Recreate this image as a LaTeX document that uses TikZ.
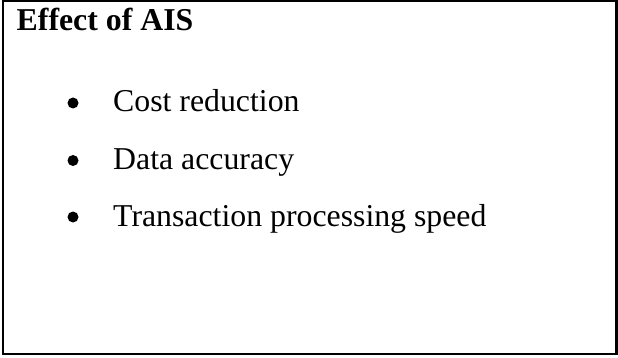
\documentclass[tikz,border=0pt]{standalone}
\usepackage{fontspec}
\setmainfont{Liberation Serif}
\begin{document}
\begin{tikzpicture}[x=1pt,y=-1pt,
  frame/.style={draw=black,line width=2.2pt},
  heading/.style={anchor=base west,inner sep=0pt,font=\fontsize{31.8}{36}\selectfont\bfseries},
  item/.style={anchor=base west,inner sep=0pt,font=\fontsize{31.8}{36}\selectfont},
  dot/.style={circle,fill=black,inner sep=0pt,minimum size=11pt}]
  \useasboundingbox (0,0) rectangle (618,358);
  % outer frame
  \draw[frame] (2.8,1.1) rectangle (616.5,354);
  % heading
  \node[heading] (title) at (16.5,31) {Effect of AIS};
  % bulleted list
  \node[item] (i1) at (113,112) {Cost reduction};
  \node[item] (i2) at (113,169.5) {Data accuracy};
  \node[item] (i3) at (113,226) {Transaction processing speed};
  \node[dot] (b1) at (73,103) {};
  \node[dot] (b2) at (73,160.5) {};
  \node[dot] (b3) at (73,217) {};
\end{tikzpicture}
\end{document}
